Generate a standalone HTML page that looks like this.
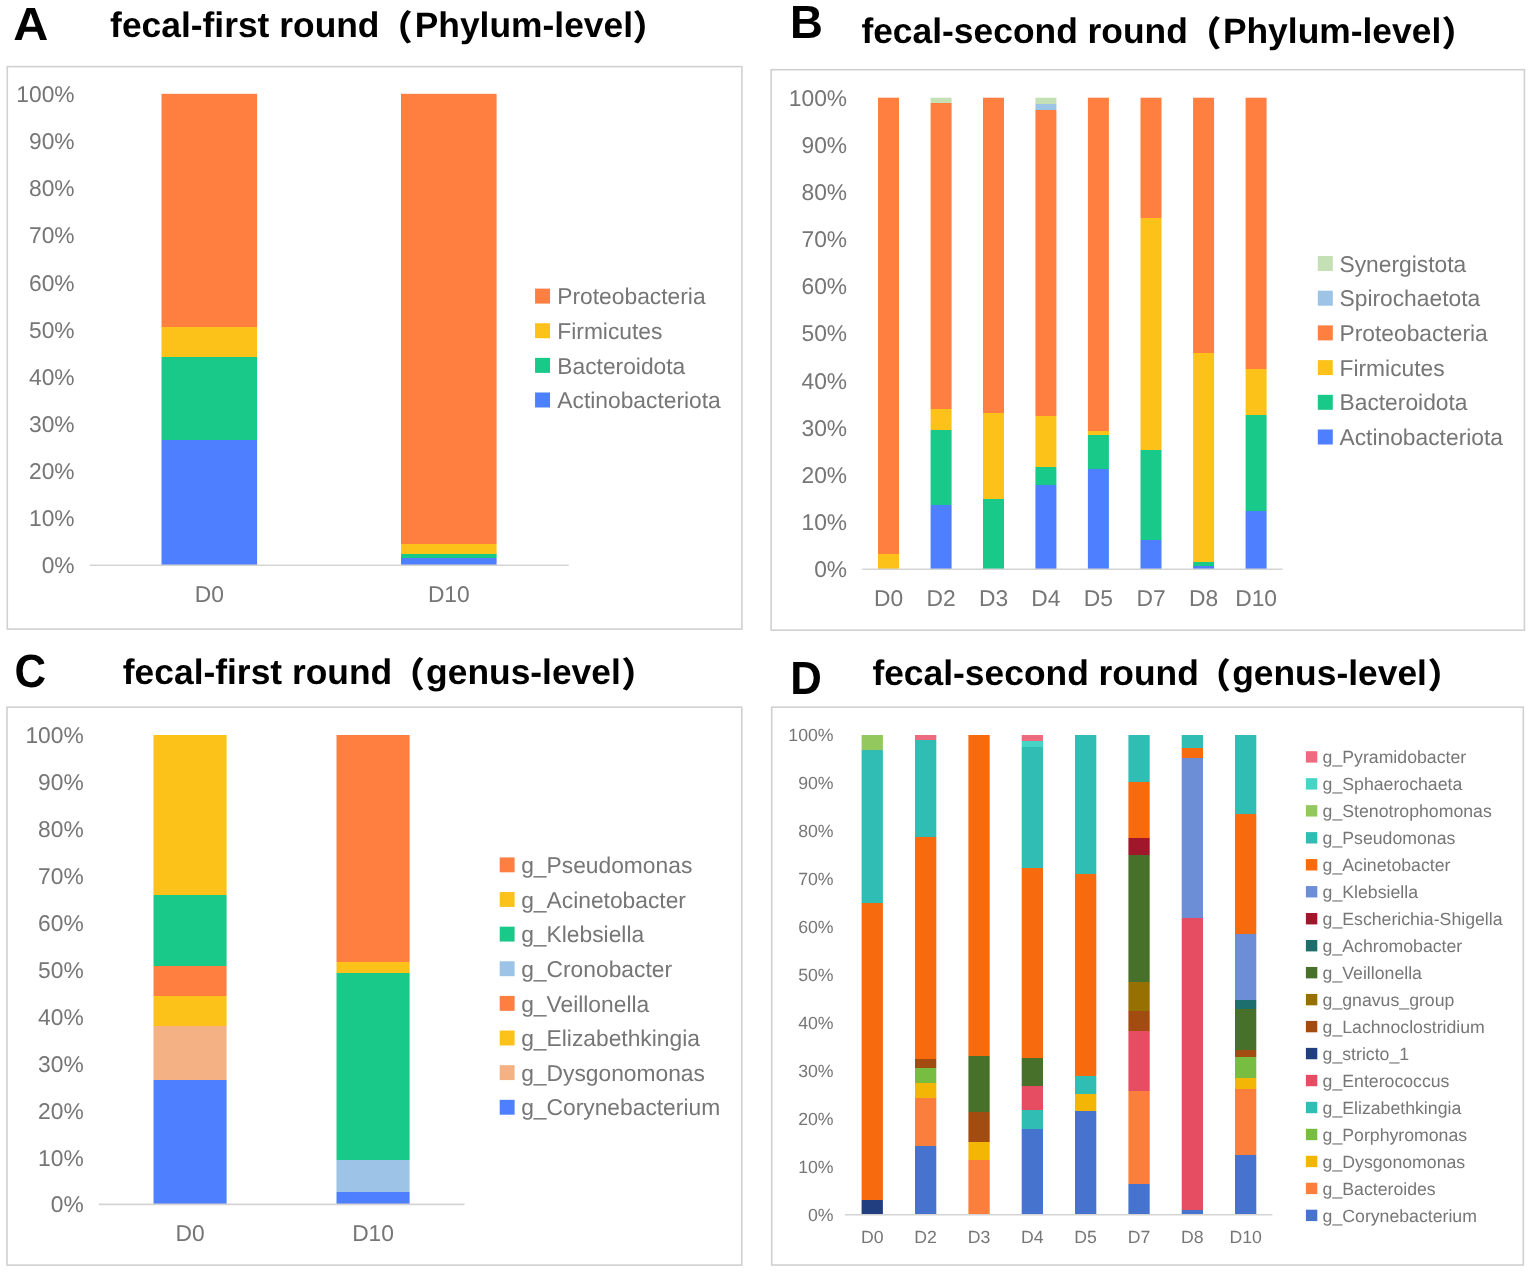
<!DOCTYPE html>
<html><head><meta charset="utf-8"><title>fecal microbiota composition</title>
<style>
html,body{margin:0;padding:0;background:#fff;}
body{width:1535px;height:1273px;overflow:hidden;}
svg{display:block;font-family:'Liberation Sans', Arial, sans-serif;text-rendering:geometricPrecision;}
</style></head><body>
<svg width="1535" height="1273" viewBox="0 0 1535 1273">
<defs><linearGradient id="g0" x1="0" y1="1" x2="0" y2="0"><stop offset="0.0000" stop-color="#4E7FFF"/><stop offset="0.2650" stop-color="#4E7FFF"/><stop offset="0.2650" stop-color="#19C98A"/><stop offset="0.4415" stop-color="#19C98A"/><stop offset="0.4415" stop-color="#FDC219"/><stop offset="0.5060" stop-color="#FDC219"/><stop offset="0.5060" stop-color="#FF7F41"/><stop offset="1.0000" stop-color="#FF7F41"/></linearGradient>
<linearGradient id="g1" x1="0" y1="1" x2="0" y2="0"><stop offset="0.0000" stop-color="#4E7FFF"/><stop offset="0.0150" stop-color="#4E7FFF"/><stop offset="0.0150" stop-color="#19C98A"/><stop offset="0.0230" stop-color="#19C98A"/><stop offset="0.0230" stop-color="#FDC219"/><stop offset="0.0450" stop-color="#FDC219"/><stop offset="0.0450" stop-color="#FF7F41"/><stop offset="1.0000" stop-color="#FF7F41"/></linearGradient>
<linearGradient id="g2" x1="0" y1="1" x2="0" y2="0"><stop offset="0.0000" stop-color="#FDC219"/><stop offset="0.0320" stop-color="#FDC219"/><stop offset="0.0320" stop-color="#FF7F41"/><stop offset="1.0000" stop-color="#FF7F41"/></linearGradient>
<linearGradient id="g3" x1="0" y1="1" x2="0" y2="0"><stop offset="0.0000" stop-color="#4E7FFF"/><stop offset="0.1370" stop-color="#4E7FFF"/><stop offset="0.1370" stop-color="#19C98A"/><stop offset="0.2950" stop-color="#19C98A"/><stop offset="0.2950" stop-color="#FDC219"/><stop offset="0.3400" stop-color="#FDC219"/><stop offset="0.3400" stop-color="#FF7F41"/><stop offset="0.9890" stop-color="#FF7F41"/><stop offset="0.9890" stop-color="#C5E0B4"/><stop offset="1.0000" stop-color="#C5E0B4"/></linearGradient>
<linearGradient id="g4" x1="0" y1="1" x2="0" y2="0"><stop offset="0.0000" stop-color="#19C98A"/><stop offset="0.1490" stop-color="#19C98A"/><stop offset="0.1490" stop-color="#FDC219"/><stop offset="0.3305" stop-color="#FDC219"/><stop offset="0.3305" stop-color="#FF7F41"/><stop offset="1.0000" stop-color="#FF7F41"/></linearGradient>
<linearGradient id="g5" x1="0" y1="1" x2="0" y2="0"><stop offset="0.0000" stop-color="#4E7FFF"/><stop offset="0.1790" stop-color="#4E7FFF"/><stop offset="0.1790" stop-color="#19C98A"/><stop offset="0.2170" stop-color="#19C98A"/><stop offset="0.2170" stop-color="#FDC219"/><stop offset="0.3245" stop-color="#FDC219"/><stop offset="0.3245" stop-color="#FF7F41"/><stop offset="0.9735" stop-color="#FF7F41"/><stop offset="0.9735" stop-color="#9DC3E6"/><stop offset="0.9870" stop-color="#9DC3E6"/><stop offset="0.9870" stop-color="#C5E0B4"/><stop offset="1.0000" stop-color="#C5E0B4"/></linearGradient>
<linearGradient id="g6" x1="0" y1="1" x2="0" y2="0"><stop offset="0.0000" stop-color="#4E7FFF"/><stop offset="0.2125" stop-color="#4E7FFF"/><stop offset="0.2125" stop-color="#19C98A"/><stop offset="0.2850" stop-color="#19C98A"/><stop offset="0.2850" stop-color="#FDC219"/><stop offset="0.2940" stop-color="#FDC219"/><stop offset="0.2940" stop-color="#FF7F41"/><stop offset="1.0000" stop-color="#FF7F41"/></linearGradient>
<linearGradient id="g7" x1="0" y1="1" x2="0" y2="0"><stop offset="0.0000" stop-color="#4E7FFF"/><stop offset="0.0620" stop-color="#4E7FFF"/><stop offset="0.0620" stop-color="#19C98A"/><stop offset="0.2530" stop-color="#19C98A"/><stop offset="0.2530" stop-color="#FDC219"/><stop offset="0.7445" stop-color="#FDC219"/><stop offset="0.7445" stop-color="#FF7F41"/><stop offset="1.0000" stop-color="#FF7F41"/></linearGradient>
<linearGradient id="g8" x1="0" y1="1" x2="0" y2="0"><stop offset="0.0000" stop-color="#4E7FFF"/><stop offset="0.0060" stop-color="#4E7FFF"/><stop offset="0.0060" stop-color="#19C98A"/><stop offset="0.0160" stop-color="#19C98A"/><stop offset="0.0160" stop-color="#FDC219"/><stop offset="0.4580" stop-color="#FDC219"/><stop offset="0.4580" stop-color="#FF7F41"/><stop offset="1.0000" stop-color="#FF7F41"/></linearGradient>
<linearGradient id="g9" x1="0" y1="1" x2="0" y2="0"><stop offset="0.0000" stop-color="#4E7FFF"/><stop offset="0.1230" stop-color="#4E7FFF"/><stop offset="0.1230" stop-color="#19C98A"/><stop offset="0.3260" stop-color="#19C98A"/><stop offset="0.3260" stop-color="#FDC219"/><stop offset="0.4250" stop-color="#FDC219"/><stop offset="0.4250" stop-color="#FF7F41"/><stop offset="1.0000" stop-color="#FF7F41"/></linearGradient>
<linearGradient id="g10" x1="0" y1="1" x2="0" y2="0"><stop offset="0.0000" stop-color="#4E7FFF"/><stop offset="0.2650" stop-color="#4E7FFF"/><stop offset="0.2650" stop-color="#F4B183"/><stop offset="0.3790" stop-color="#F4B183"/><stop offset="0.3790" stop-color="#FDC219"/><stop offset="0.4430" stop-color="#FDC219"/><stop offset="0.4430" stop-color="#FF7F41"/><stop offset="0.5070" stop-color="#FF7F41"/><stop offset="0.5070" stop-color="#19C98A"/><stop offset="0.6580" stop-color="#19C98A"/><stop offset="0.6580" stop-color="#FDC219"/><stop offset="1.0000" stop-color="#FDC219"/></linearGradient>
<linearGradient id="g11" x1="0" y1="1" x2="0" y2="0"><stop offset="0.0000" stop-color="#4E7FFF"/><stop offset="0.0270" stop-color="#4E7FFF"/><stop offset="0.0270" stop-color="#9DC3E6"/><stop offset="0.0950" stop-color="#9DC3E6"/><stop offset="0.0950" stop-color="#19C98A"/><stop offset="0.4920" stop-color="#19C98A"/><stop offset="0.4920" stop-color="#FDC219"/><stop offset="0.5170" stop-color="#FDC219"/><stop offset="0.5170" stop-color="#FF7F41"/><stop offset="1.0000" stop-color="#FF7F41"/></linearGradient>
<linearGradient id="g12" x1="0" y1="1" x2="0" y2="0"><stop offset="0.0000" stop-color="#213F80"/><stop offset="0.0310" stop-color="#213F80"/><stop offset="0.0310" stop-color="#F86A0E"/><stop offset="0.6500" stop-color="#F86A0E"/><stop offset="0.6500" stop-color="#30BEB4"/><stop offset="0.9690" stop-color="#30BEB4"/><stop offset="0.9690" stop-color="#92C85E"/><stop offset="1.0000" stop-color="#92C85E"/></linearGradient>
<linearGradient id="g13" x1="0" y1="1" x2="0" y2="0"><stop offset="0.0000" stop-color="#4673CE"/><stop offset="0.1430" stop-color="#4673CE"/><stop offset="0.1430" stop-color="#FA7F3D"/><stop offset="0.2430" stop-color="#FA7F3D"/><stop offset="0.2430" stop-color="#F3B604"/><stop offset="0.2750" stop-color="#F3B604"/><stop offset="0.2750" stop-color="#77BD42"/><stop offset="0.3060" stop-color="#77BD42"/><stop offset="0.3060" stop-color="#A24C12"/><stop offset="0.3250" stop-color="#A24C12"/><stop offset="0.3250" stop-color="#F86A0E"/><stop offset="0.7870" stop-color="#F86A0E"/><stop offset="0.7870" stop-color="#30BEB4"/><stop offset="0.9890" stop-color="#30BEB4"/><stop offset="0.9890" stop-color="#EE6A7E"/><stop offset="1.0000" stop-color="#EE6A7E"/></linearGradient>
<linearGradient id="g14" x1="0" y1="1" x2="0" y2="0"><stop offset="0.0000" stop-color="#FA7F3D"/><stop offset="0.1130" stop-color="#FA7F3D"/><stop offset="0.1130" stop-color="#F3B604"/><stop offset="0.1510" stop-color="#F3B604"/><stop offset="0.1510" stop-color="#A24C12"/><stop offset="0.2150" stop-color="#A24C12"/><stop offset="0.2150" stop-color="#47712A"/><stop offset="0.3310" stop-color="#47712A"/><stop offset="0.3310" stop-color="#F86A0E"/><stop offset="1.0000" stop-color="#F86A0E"/></linearGradient>
<linearGradient id="g15" x1="0" y1="1" x2="0" y2="0"><stop offset="0.0000" stop-color="#4673CE"/><stop offset="0.1780" stop-color="#4673CE"/><stop offset="0.1780" stop-color="#30BEB4"/><stop offset="0.2180" stop-color="#30BEB4"/><stop offset="0.2180" stop-color="#E64D63"/><stop offset="0.2680" stop-color="#E64D63"/><stop offset="0.2680" stop-color="#47712A"/><stop offset="0.3260" stop-color="#47712A"/><stop offset="0.3260" stop-color="#F86A0E"/><stop offset="0.7230" stop-color="#F86A0E"/><stop offset="0.7230" stop-color="#30BEB4"/><stop offset="0.9760" stop-color="#30BEB4"/><stop offset="0.9760" stop-color="#45D4C6"/><stop offset="0.9870" stop-color="#45D4C6"/><stop offset="0.9870" stop-color="#EE6A7E"/><stop offset="1.0000" stop-color="#EE6A7E"/></linearGradient>
<linearGradient id="g16" x1="0" y1="1" x2="0" y2="0"><stop offset="0.0000" stop-color="#4673CE"/><stop offset="0.2170" stop-color="#4673CE"/><stop offset="0.2170" stop-color="#F3B604"/><stop offset="0.2520" stop-color="#F3B604"/><stop offset="0.2520" stop-color="#30BEB4"/><stop offset="0.2900" stop-color="#30BEB4"/><stop offset="0.2900" stop-color="#F86A0E"/><stop offset="0.7100" stop-color="#F86A0E"/><stop offset="0.7100" stop-color="#30BEB4"/><stop offset="1.0000" stop-color="#30BEB4"/></linearGradient>
<linearGradient id="g17" x1="0" y1="1" x2="0" y2="0"><stop offset="0.0000" stop-color="#4673CE"/><stop offset="0.0640" stop-color="#4673CE"/><stop offset="0.0640" stop-color="#FA7F3D"/><stop offset="0.2570" stop-color="#FA7F3D"/><stop offset="0.2570" stop-color="#E64D63"/><stop offset="0.3830" stop-color="#E64D63"/><stop offset="0.3830" stop-color="#A24C12"/><stop offset="0.4250" stop-color="#A24C12"/><stop offset="0.4250" stop-color="#967000"/><stop offset="0.4850" stop-color="#967000"/><stop offset="0.4850" stop-color="#47712A"/><stop offset="0.7490" stop-color="#47712A"/><stop offset="0.7490" stop-color="#A0172B"/><stop offset="0.7850" stop-color="#A0172B"/><stop offset="0.7850" stop-color="#F86A0E"/><stop offset="0.9030" stop-color="#F86A0E"/><stop offset="0.9030" stop-color="#30BEB4"/><stop offset="1.0000" stop-color="#30BEB4"/></linearGradient>
<linearGradient id="g18" x1="0" y1="1" x2="0" y2="0"><stop offset="0.0000" stop-color="#4673CE"/><stop offset="0.0100" stop-color="#4673CE"/><stop offset="0.0100" stop-color="#E64D63"/><stop offset="0.6180" stop-color="#E64D63"/><stop offset="0.6180" stop-color="#6C8ED6"/><stop offset="0.9520" stop-color="#6C8ED6"/><stop offset="0.9520" stop-color="#F86A0E"/><stop offset="0.9730" stop-color="#F86A0E"/><stop offset="0.9730" stop-color="#30BEB4"/><stop offset="1.0000" stop-color="#30BEB4"/></linearGradient>
<linearGradient id="g19" x1="0" y1="1" x2="0" y2="0"><stop offset="0.0000" stop-color="#4673CE"/><stop offset="0.1240" stop-color="#4673CE"/><stop offset="0.1240" stop-color="#FA7F3D"/><stop offset="0.2610" stop-color="#FA7F3D"/><stop offset="0.2610" stop-color="#F3B604"/><stop offset="0.2840" stop-color="#F3B604"/><stop offset="0.2840" stop-color="#77BD42"/><stop offset="0.3280" stop-color="#77BD42"/><stop offset="0.3280" stop-color="#A24C12"/><stop offset="0.3430" stop-color="#A24C12"/><stop offset="0.3430" stop-color="#47712A"/><stop offset="0.4280" stop-color="#47712A"/><stop offset="0.4280" stop-color="#1D6F6E"/><stop offset="0.4470" stop-color="#1D6F6E"/><stop offset="0.4470" stop-color="#6C8ED6"/><stop offset="0.5850" stop-color="#6C8ED6"/><stop offset="0.5850" stop-color="#F86A0E"/><stop offset="0.8350" stop-color="#F86A0E"/><stop offset="0.8350" stop-color="#30BEB4"/><stop offset="1.0000" stop-color="#30BEB4"/></linearGradient></defs>
<rect x="0" y="0" width="1535" height="1273" fill="#fff"/>
<text transform="translate(13.15 40.10) scale(1.045 1)" font-size="46.5" fill="#000" font-weight="bold">A</text>
<text x="110.10" y="36.90" font-size="35.4" fill="#000" font-weight="bold" text-anchor="start" >fecal-first round</text>
<text x="378.00" y="40.20" font-size="34.7" fill="#000" font-weight="900" text-anchor="start" style="font-family:'Liberation Sans','Noto Sans CJK SC',sans-serif">（</text>
<text x="414.70" y="36.90" font-size="35.4" fill="#000" font-weight="bold" text-anchor="start" >Phylum-level</text>
<text x="632.60" y="40.20" font-size="34.7" fill="#000" font-weight="900" text-anchor="start" style="font-family:'Liberation Sans','Noto Sans CJK SC',sans-serif">）</text>
<rect x="7.30" y="66.60" width="734.60" height="562.50" fill="none" stroke="#d0d0d0" stroke-width="1.6"/>
<text x="74.60" y="573.36" font-size="22.8" fill="#767676" font-weight="normal" text-anchor="end" >0%</text>
<text x="74.60" y="526.23" font-size="22.8" fill="#767676" font-weight="normal" text-anchor="end" >10%</text>
<text x="74.60" y="479.10" font-size="22.8" fill="#767676" font-weight="normal" text-anchor="end" >20%</text>
<text x="74.60" y="431.97" font-size="22.8" fill="#767676" font-weight="normal" text-anchor="end" >30%</text>
<text x="74.60" y="384.84" font-size="22.8" fill="#767676" font-weight="normal" text-anchor="end" >40%</text>
<text x="74.60" y="337.71" font-size="22.8" fill="#767676" font-weight="normal" text-anchor="end" >50%</text>
<text x="74.60" y="290.58" font-size="22.8" fill="#767676" font-weight="normal" text-anchor="end" >60%</text>
<text x="74.60" y="243.45" font-size="22.8" fill="#767676" font-weight="normal" text-anchor="end" >70%</text>
<text x="74.60" y="196.32" font-size="22.8" fill="#767676" font-weight="normal" text-anchor="end" >80%</text>
<text x="74.60" y="149.19" font-size="22.8" fill="#767676" font-weight="normal" text-anchor="end" >90%</text>
<text x="74.60" y="102.06" font-size="22.8" fill="#767676" font-weight="normal" text-anchor="end" >100%</text>
<rect x="161.50" y="93.80" width="95.60" height="471.20" fill="url(#g0)"/>
<text x="209.30" y="601.80" font-size="22.8" fill="#767676" font-weight="normal" text-anchor="middle" >D0</text>
<rect x="401.00" y="93.80" width="95.60" height="471.20" fill="url(#g1)"/>
<text x="448.80" y="601.80" font-size="22.8" fill="#767676" font-weight="normal" text-anchor="middle" >D10</text>
<line x1="89.80" y1="565.30" x2="568.70" y2="565.30" stroke="#d4d4d4" stroke-width="1.6"/>
<rect x="535.05" y="288.60" width="15.00" height="15.00" fill="#FF7F41"/>
<text x="557.30" y="304.26" font-size="22.8" fill="#767676" font-weight="normal" text-anchor="start" >Proteobacteria</text>
<rect x="535.05" y="323.23" width="15.00" height="15.00" fill="#FDC219"/>
<text x="557.30" y="338.89" font-size="22.8" fill="#767676" font-weight="normal" text-anchor="start" >Firmicutes</text>
<rect x="535.05" y="357.86" width="15.00" height="15.00" fill="#19C98A"/>
<text x="557.30" y="373.52" font-size="22.8" fill="#767676" font-weight="normal" text-anchor="start" >Bacteroidota</text>
<rect x="535.05" y="392.49" width="15.00" height="15.00" fill="#4E7FFF"/>
<text x="557.30" y="408.15" font-size="22.8" fill="#767676" font-weight="normal" text-anchor="start" >Actinobacteriota</text>
<text transform="translate(790.10 38.30) scale(0.98 1)" font-size="46.5" fill="#000" font-weight="bold">B</text>
<text x="861.40" y="42.90" font-size="35.4" fill="#000" font-weight="bold" text-anchor="start" >fecal-second round</text>
<text x="1186.80" y="46.20" font-size="34.7" fill="#000" font-weight="900" text-anchor="start" style="font-family:'Liberation Sans','Noto Sans CJK SC',sans-serif">（</text>
<text x="1222.90" y="42.90" font-size="35.4" fill="#000" font-weight="bold" text-anchor="start" >Phylum-level</text>
<text x="1441.60" y="46.20" font-size="34.7" fill="#000" font-weight="900" text-anchor="start" style="font-family:'Liberation Sans','Noto Sans CJK SC',sans-serif">）</text>
<rect x="771.10" y="69.70" width="753.30" height="560.50" fill="none" stroke="#d0d0d0" stroke-width="1.6"/>
<text x="847.10" y="577.36" font-size="22.8" fill="#767676" font-weight="normal" text-anchor="end" >0%</text>
<text x="847.10" y="530.19" font-size="22.8" fill="#767676" font-weight="normal" text-anchor="end" >10%</text>
<text x="847.10" y="483.01" font-size="22.8" fill="#767676" font-weight="normal" text-anchor="end" >20%</text>
<text x="847.10" y="435.84" font-size="22.8" fill="#767676" font-weight="normal" text-anchor="end" >30%</text>
<text x="847.10" y="388.66" font-size="22.8" fill="#767676" font-weight="normal" text-anchor="end" >40%</text>
<text x="847.10" y="341.49" font-size="22.8" fill="#767676" font-weight="normal" text-anchor="end" >50%</text>
<text x="847.10" y="294.31" font-size="22.8" fill="#767676" font-weight="normal" text-anchor="end" >60%</text>
<text x="847.10" y="247.14" font-size="22.8" fill="#767676" font-weight="normal" text-anchor="end" >70%</text>
<text x="847.10" y="199.96" font-size="22.8" fill="#767676" font-weight="normal" text-anchor="end" >80%</text>
<text x="847.10" y="152.79" font-size="22.8" fill="#767676" font-weight="normal" text-anchor="end" >90%</text>
<text x="847.10" y="105.61" font-size="22.8" fill="#767676" font-weight="normal" text-anchor="end" >100%</text>
<rect x="878.00" y="97.70" width="21.00" height="471.50" fill="url(#g2)"/>
<text x="888.50" y="605.60" font-size="22.8" fill="#767676" font-weight="normal" text-anchor="middle" >D0</text>
<rect x="930.60" y="97.70" width="21.00" height="471.50" fill="url(#g3)"/>
<text x="941.10" y="605.60" font-size="22.8" fill="#767676" font-weight="normal" text-anchor="middle" >D2</text>
<rect x="983.00" y="97.70" width="21.00" height="471.50" fill="url(#g4)"/>
<text x="993.50" y="605.60" font-size="22.8" fill="#767676" font-weight="normal" text-anchor="middle" >D3</text>
<rect x="1035.40" y="97.70" width="21.00" height="471.50" fill="url(#g5)"/>
<text x="1045.90" y="605.60" font-size="22.8" fill="#767676" font-weight="normal" text-anchor="middle" >D4</text>
<rect x="1087.90" y="97.70" width="21.00" height="471.50" fill="url(#g6)"/>
<text x="1098.40" y="605.60" font-size="22.8" fill="#767676" font-weight="normal" text-anchor="middle" >D5</text>
<rect x="1140.50" y="97.70" width="21.00" height="471.50" fill="url(#g7)"/>
<text x="1151.00" y="605.60" font-size="22.8" fill="#767676" font-weight="normal" text-anchor="middle" >D7</text>
<rect x="1193.10" y="97.70" width="21.00" height="471.50" fill="url(#g8)"/>
<text x="1203.60" y="605.60" font-size="22.8" fill="#767676" font-weight="normal" text-anchor="middle" >D8</text>
<rect x="1245.60" y="97.70" width="21.00" height="471.50" fill="url(#g9)"/>
<text x="1256.10" y="605.60" font-size="22.8" fill="#767676" font-weight="normal" text-anchor="middle" >D10</text>
<line x1="862.30" y1="569.20" x2="1282.50" y2="569.20" stroke="#d4d4d4" stroke-width="1.6"/>
<rect x="1317.80" y="256.00" width="15.00" height="15.00" fill="#C5E0B4"/>
<text x="1339.50" y="271.66" font-size="22.8" fill="#767676" font-weight="normal" text-anchor="start" >Synergistota</text>
<rect x="1317.80" y="290.70" width="15.00" height="15.00" fill="#9DC3E6"/>
<text x="1339.50" y="306.36" font-size="22.8" fill="#767676" font-weight="normal" text-anchor="start" >Spirochaetota</text>
<rect x="1317.80" y="325.40" width="15.00" height="15.00" fill="#FF7F41"/>
<text x="1339.50" y="341.06" font-size="22.8" fill="#767676" font-weight="normal" text-anchor="start" >Proteobacteria</text>
<rect x="1317.80" y="360.10" width="15.00" height="15.00" fill="#FDC219"/>
<text x="1339.50" y="375.76" font-size="22.8" fill="#767676" font-weight="normal" text-anchor="start" >Firmicutes</text>
<rect x="1317.80" y="394.80" width="15.00" height="15.00" fill="#19C98A"/>
<text x="1339.50" y="410.46" font-size="22.8" fill="#767676" font-weight="normal" text-anchor="start" >Bacteroidota</text>
<rect x="1317.80" y="429.50" width="15.00" height="15.00" fill="#4E7FFF"/>
<text x="1339.50" y="445.16" font-size="22.8" fill="#767676" font-weight="normal" text-anchor="start" >Actinobacteriota</text>
<text transform="translate(14.50 687.00) scale(0.94 1)" font-size="46.5" fill="#000" font-weight="bold">C</text>
<text x="122.80" y="684.00" font-size="35.4" fill="#000" font-weight="bold" text-anchor="start" >fecal-first round</text>
<text x="390.20" y="687.30" font-size="34.7" fill="#000" font-weight="900" text-anchor="start" style="font-family:'Liberation Sans','Noto Sans CJK SC',sans-serif">（</text>
<text x="426.10" y="684.00" font-size="35.4" fill="#000" font-weight="bold" text-anchor="start" >genus-level</text>
<text x="621.20" y="687.30" font-size="34.7" fill="#000" font-weight="900" text-anchor="start" style="font-family:'Liberation Sans','Noto Sans CJK SC',sans-serif">）</text>
<rect x="7.00" y="707.20" width="734.80" height="557.90" fill="none" stroke="#d0d0d0" stroke-width="1.6"/>
<text x="83.70" y="1212.46" font-size="22.8" fill="#767676" font-weight="normal" text-anchor="end" >0%</text>
<text x="83.70" y="1165.54" font-size="22.8" fill="#767676" font-weight="normal" text-anchor="end" >10%</text>
<text x="83.70" y="1118.61" font-size="22.8" fill="#767676" font-weight="normal" text-anchor="end" >20%</text>
<text x="83.70" y="1071.69" font-size="22.8" fill="#767676" font-weight="normal" text-anchor="end" >30%</text>
<text x="83.70" y="1024.76" font-size="22.8" fill="#767676" font-weight="normal" text-anchor="end" >40%</text>
<text x="83.70" y="977.84" font-size="22.8" fill="#767676" font-weight="normal" text-anchor="end" >50%</text>
<text x="83.70" y="930.91" font-size="22.8" fill="#767676" font-weight="normal" text-anchor="end" >60%</text>
<text x="83.70" y="883.99" font-size="22.8" fill="#767676" font-weight="normal" text-anchor="end" >70%</text>
<text x="83.70" y="837.06" font-size="22.8" fill="#767676" font-weight="normal" text-anchor="end" >80%</text>
<text x="83.70" y="790.14" font-size="22.8" fill="#767676" font-weight="normal" text-anchor="end" >90%</text>
<text x="83.70" y="743.21" font-size="22.8" fill="#767676" font-weight="normal" text-anchor="end" >100%</text>
<rect x="153.50" y="735.00" width="73.10" height="469.20" fill="url(#g10)"/>
<text x="190.05" y="1240.50" font-size="22.8" fill="#767676" font-weight="normal" text-anchor="middle" >D0</text>
<rect x="336.50" y="735.00" width="73.10" height="469.20" fill="url(#g11)"/>
<text x="373.05" y="1240.50" font-size="22.8" fill="#767676" font-weight="normal" text-anchor="middle" >D10</text>
<line x1="98.90" y1="1204.40" x2="464.50" y2="1204.40" stroke="#d4d4d4" stroke-width="1.6"/>
<rect x="499.70" y="857.40" width="14.90" height="14.90" fill="#FF7F41"/>
<text x="521.20" y="873.01" font-size="22.8" fill="#767676" font-weight="normal" text-anchor="start" >g_Pseudomonas</text>
<rect x="499.70" y="892.03" width="14.90" height="14.90" fill="#FDC219"/>
<text x="521.20" y="907.64" font-size="22.8" fill="#767676" font-weight="normal" text-anchor="start" >g_Acinetobacter</text>
<rect x="499.70" y="926.66" width="14.90" height="14.90" fill="#19C98A"/>
<text x="521.20" y="942.27" font-size="22.8" fill="#767676" font-weight="normal" text-anchor="start" >g_Klebsiella</text>
<rect x="499.70" y="961.29" width="14.90" height="14.90" fill="#9DC3E6"/>
<text x="521.20" y="976.90" font-size="22.8" fill="#767676" font-weight="normal" text-anchor="start" >g_Cronobacter</text>
<rect x="499.70" y="995.92" width="14.90" height="14.90" fill="#FF7F41"/>
<text x="521.20" y="1011.53" font-size="22.8" fill="#767676" font-weight="normal" text-anchor="start" >g_Veillonella</text>
<rect x="499.70" y="1030.55" width="14.90" height="14.90" fill="#FDC219"/>
<text x="521.20" y="1046.16" font-size="22.8" fill="#767676" font-weight="normal" text-anchor="start" >g_Elizabethkingia</text>
<rect x="499.70" y="1065.18" width="14.90" height="14.90" fill="#F4B183"/>
<text x="521.20" y="1080.79" font-size="22.8" fill="#767676" font-weight="normal" text-anchor="start" >g_Dysgonomonas</text>
<rect x="499.70" y="1099.81" width="14.90" height="14.90" fill="#4E7FFF"/>
<text x="521.20" y="1115.42" font-size="22.8" fill="#767676" font-weight="normal" text-anchor="start" >g_Corynebacterium</text>
<text transform="translate(790.20 693.60) scale(0.94 1)" font-size="46.5" fill="#000" font-weight="bold">D</text>
<text x="872.40" y="684.50" font-size="35.4" fill="#000" font-weight="bold" text-anchor="start" >fecal-second round</text>
<text x="1196.30" y="687.80" font-size="34.7" fill="#000" font-weight="900" text-anchor="start" style="font-family:'Liberation Sans','Noto Sans CJK SC',sans-serif">（</text>
<text x="1232.20" y="684.50" font-size="35.4" fill="#000" font-weight="bold" text-anchor="start" >genus-level</text>
<text x="1427.40" y="687.80" font-size="34.7" fill="#000" font-weight="900" text-anchor="start" style="font-family:'Liberation Sans','Noto Sans CJK SC',sans-serif">）</text>
<rect x="771.70" y="707.20" width="751.60" height="557.80" fill="none" stroke="#d0d0d0" stroke-width="1.6"/>
<text x="833.60" y="1221.04" font-size="17.7" fill="#767676" font-weight="normal" text-anchor="end" >0%</text>
<text x="833.60" y="1173.07" font-size="17.7" fill="#767676" font-weight="normal" text-anchor="end" >10%</text>
<text x="833.60" y="1125.11" font-size="17.7" fill="#767676" font-weight="normal" text-anchor="end" >20%</text>
<text x="833.60" y="1077.14" font-size="17.7" fill="#767676" font-weight="normal" text-anchor="end" >30%</text>
<text x="833.60" y="1029.18" font-size="17.7" fill="#767676" font-weight="normal" text-anchor="end" >40%</text>
<text x="833.60" y="981.21" font-size="17.7" fill="#767676" font-weight="normal" text-anchor="end" >50%</text>
<text x="833.60" y="933.25" font-size="17.7" fill="#767676" font-weight="normal" text-anchor="end" >60%</text>
<text x="833.60" y="885.28" font-size="17.7" fill="#767676" font-weight="normal" text-anchor="end" >70%</text>
<text x="833.60" y="837.32" font-size="17.7" fill="#767676" font-weight="normal" text-anchor="end" >80%</text>
<text x="833.60" y="789.35" font-size="17.7" fill="#767676" font-weight="normal" text-anchor="end" >90%</text>
<text x="833.60" y="741.39" font-size="17.7" fill="#767676" font-weight="normal" text-anchor="end" >100%</text>
<rect x="861.60" y="735.00" width="21.30" height="479.70" fill="url(#g12)"/>
<text x="872.25" y="1243.00" font-size="17.7" fill="#767676" font-weight="normal" text-anchor="middle" >D0</text>
<rect x="915.00" y="735.00" width="21.30" height="479.70" fill="url(#g13)"/>
<text x="925.65" y="1243.00" font-size="17.7" fill="#767676" font-weight="normal" text-anchor="middle" >D2</text>
<rect x="968.40" y="735.00" width="21.30" height="479.70" fill="url(#g14)"/>
<text x="979.05" y="1243.00" font-size="17.7" fill="#767676" font-weight="normal" text-anchor="middle" >D3</text>
<rect x="1021.70" y="735.00" width="21.30" height="479.70" fill="url(#g15)"/>
<text x="1032.35" y="1243.00" font-size="17.7" fill="#767676" font-weight="normal" text-anchor="middle" >D4</text>
<rect x="1075.00" y="735.00" width="21.30" height="479.70" fill="url(#g16)"/>
<text x="1085.65" y="1243.00" font-size="17.7" fill="#767676" font-weight="normal" text-anchor="middle" >D5</text>
<rect x="1128.40" y="735.00" width="21.30" height="479.70" fill="url(#g17)"/>
<text x="1139.05" y="1243.00" font-size="17.7" fill="#767676" font-weight="normal" text-anchor="middle" >D7</text>
<rect x="1181.70" y="735.00" width="21.30" height="479.70" fill="url(#g18)"/>
<text x="1192.35" y="1243.00" font-size="17.7" fill="#767676" font-weight="normal" text-anchor="middle" >D8</text>
<rect x="1235.00" y="735.00" width="21.30" height="479.70" fill="url(#g19)"/>
<text x="1245.65" y="1243.00" font-size="17.7" fill="#767676" font-weight="normal" text-anchor="middle" >D10</text>
<line x1="845.00" y1="1214.70" x2="1272.40" y2="1214.70" stroke="#d4d4d4" stroke-width="1.6"/>
<rect x="1305.90" y="751.20" width="11.40" height="11.40" fill="#EE6A7E"/>
<text x="1322.60" y="763.24" font-size="17.7" fill="#767676" font-weight="normal" text-anchor="start" >g_Pyramidobacter</text>
<rect x="1305.90" y="778.17" width="11.40" height="11.40" fill="#45D4C6"/>
<text x="1322.60" y="790.21" font-size="17.7" fill="#767676" font-weight="normal" text-anchor="start" >g_Sphaerochaeta</text>
<rect x="1305.90" y="805.14" width="11.40" height="11.40" fill="#92C85E"/>
<text x="1322.60" y="817.18" font-size="17.7" fill="#767676" font-weight="normal" text-anchor="start" >g_Stenotrophomonas</text>
<rect x="1305.90" y="832.11" width="11.40" height="11.40" fill="#30BEB4"/>
<text x="1322.60" y="844.15" font-size="17.7" fill="#767676" font-weight="normal" text-anchor="start" >g_Pseudomonas</text>
<rect x="1305.90" y="859.08" width="11.40" height="11.40" fill="#F86A0E"/>
<text x="1322.60" y="871.12" font-size="17.7" fill="#767676" font-weight="normal" text-anchor="start" >g_Acinetobacter</text>
<rect x="1305.90" y="886.05" width="11.40" height="11.40" fill="#6C8ED6"/>
<text x="1322.60" y="898.09" font-size="17.7" fill="#767676" font-weight="normal" text-anchor="start" >g_Klebsiella</text>
<rect x="1305.90" y="913.02" width="11.40" height="11.40" fill="#A0172B"/>
<text x="1322.60" y="925.06" font-size="17.7" fill="#767676" font-weight="normal" text-anchor="start" >g_Escherichia-Shigella</text>
<rect x="1305.90" y="939.99" width="11.40" height="11.40" fill="#1D6F6E"/>
<text x="1322.60" y="952.03" font-size="17.7" fill="#767676" font-weight="normal" text-anchor="start" >g_Achromobacter</text>
<rect x="1305.90" y="966.96" width="11.40" height="11.40" fill="#47712A"/>
<text x="1322.60" y="979.00" font-size="17.7" fill="#767676" font-weight="normal" text-anchor="start" >g_Veillonella</text>
<rect x="1305.90" y="993.93" width="11.40" height="11.40" fill="#967000"/>
<text x="1322.60" y="1005.97" font-size="17.7" fill="#767676" font-weight="normal" text-anchor="start" >g_gnavus_group</text>
<rect x="1305.90" y="1020.90" width="11.40" height="11.40" fill="#A24C12"/>
<text x="1322.60" y="1032.94" font-size="17.7" fill="#767676" font-weight="normal" text-anchor="start" >g_Lachnoclostridium</text>
<rect x="1305.90" y="1047.87" width="11.40" height="11.40" fill="#213F80"/>
<text x="1322.60" y="1059.91" font-size="17.7" fill="#767676" font-weight="normal" text-anchor="start" >g_stricto_1</text>
<rect x="1305.90" y="1074.84" width="11.40" height="11.40" fill="#E64D63"/>
<text x="1322.60" y="1086.88" font-size="17.7" fill="#767676" font-weight="normal" text-anchor="start" >g_Enterococcus</text>
<rect x="1305.90" y="1101.81" width="11.40" height="11.40" fill="#30BEB4"/>
<text x="1322.60" y="1113.85" font-size="17.7" fill="#767676" font-weight="normal" text-anchor="start" >g_Elizabethkingia</text>
<rect x="1305.90" y="1128.78" width="11.40" height="11.40" fill="#77BD42"/>
<text x="1322.60" y="1140.82" font-size="17.7" fill="#767676" font-weight="normal" text-anchor="start" >g_Porphyromonas</text>
<rect x="1305.90" y="1155.75" width="11.40" height="11.40" fill="#F3B604"/>
<text x="1322.60" y="1167.79" font-size="17.7" fill="#767676" font-weight="normal" text-anchor="start" >g_Dysgonomonas</text>
<rect x="1305.90" y="1182.72" width="11.40" height="11.40" fill="#FA7F3D"/>
<text x="1322.60" y="1194.76" font-size="17.7" fill="#767676" font-weight="normal" text-anchor="start" >g_Bacteroides</text>
<rect x="1305.90" y="1209.69" width="11.40" height="11.40" fill="#4673CE"/>
<text x="1322.60" y="1221.73" font-size="17.7" fill="#767676" font-weight="normal" text-anchor="start" >g_Corynebacterium</text>
</svg>
</body></html>
